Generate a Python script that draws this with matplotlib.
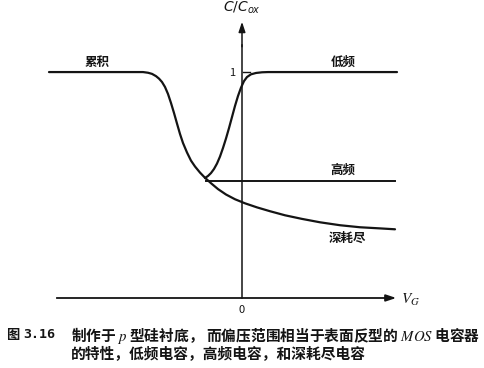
import numpy as np
import matplotlib.pyplot as plt

plt.rcParams['font.family'] = ['Noto Sans CJK SC', 'DejaVu Sans']
plt.rcParams['mathtext.fontset'] = 'stix'

# ---------------------------------------------------------------------------
# Curve data (V_G in arbitrary units, C/Cox normalised)
# ---------------------------------------------------------------------------
# accumulation -> depletion -> deep depletion (single sweep)
dd_v = [-1.93, -1.07, -0.99, -0.94, -0.90, -0.86, -0.83, -0.80, -0.77, -0.74,
        -0.71, -0.68, -0.65, -0.62, -0.59, -0.55, -0.51, -0.47, -0.42, -0.37,
        -0.31, -0.24, -0.16, -0.07, 0.03, 0.15, 0.28, 0.43, 0.60, 0.78,
        0.98, 1.18, 1.38, 1.53]
dd_c = [1.000, 1.000, 1.000, 0.997, 0.992, 0.982, 0.971, 0.956, 0.934, 0.903,
        0.863, 0.819, 0.772, 0.726, 0.686, 0.644, 0.608, 0.582, 0.555, 0.532,
        0.508, 0.482, 0.458, 0.437, 0.419, 0.401, 0.384, 0.366, 0.350, 0.335,
        0.322, 0.313, 0.308, 0.304]

# low frequency branch
lf_v = [-0.37, -0.34, -0.31, -0.28, -0.25, -0.22, -0.19, -0.16, -0.13, -0.10,
        -0.07, -0.04, -0.01, 0.02, 0.05, 0.09, 0.14, 0.20, 0.26, 1.55]
lf_c = [0.531, 0.540, 0.553, 0.571, 0.595, 0.626, 0.664, 0.706, 0.752, 0.801,
        0.850, 0.894, 0.931, 0.960, 0.978, 0.990, 0.996, 0.999, 1.000, 1.000]

# high frequency branch
hf_v = [-0.36, 1.53]
hf_c = [0.518, 0.518]

labels = ["累积", "低频", "高频", "深耗尽"]
label_pos = [(-1.45, 1.044), (1.01, 1.044), (1.01, 0.566), (1.05, 0.265)]

caption_num = ["图", "3.16"]
caption_1 = "制作于 $p$ 型硅衬底， 而偏压范围相当于表面反型的 $MOS$ 电容器"
caption_2 = "的特性，低频电容，高频电容，和深耗尽电容"

# ---------------------------------------------------------------------------
fig = plt.figure(figsize=(4.85, 3.68), dpi=100)
ax = fig.add_axes([0, 0, 1, 1])
ax.set_xlim(-2.42, 2.43)
ax.set_ylim(-0.31, 1.319)
ax.axis('off')

ink = '#141414'

# Curves
ax.plot(dd_v, dd_c, color=ink, lw=1.6, solid_capstyle='round', solid_joinstyle='round')
ax.plot(lf_v, lf_c, color=ink, lw=1.6, solid_capstyle='round', solid_joinstyle='round')
ax.plot(hf_v, hf_c, color=ink, lw=1.4)

# Axes with arrows
ax.plot([-1.85, 1.45], [0, 0], color=ink, lw=1.3)
ax.annotate('', xy=(1.57, 0), xytext=(1.40, 0),
            arrowprops=dict(arrowstyle='-|>,head_length=0.6,head_width=0.2', lw=1.3, color=ink))
ax.plot([0, 0], [0, 1.12], color=ink, lw=1.1)
ax.annotate('', xy=(0, 1.235), xytext=(0, 1.10),
            arrowprops=dict(arrowstyle='-|>,head_length=0.6,head_width=0.2', lw=1.1, color=ink))
ax.plot([0.01, 0.08], [1.0, 1.0], color=ink, lw=1.0)

# Axis annotations
ax.text(-0.10, 0.995, "1", fontsize=8, ha='center', va='center', color=ink)
ax.text(0, -0.055, "0", fontsize=8, ha='center', va='center', color=ink)
ax.text(0, 1.283, "$C/C_{ox}$", fontsize=10, ha='center', va='center', color=ink,
        math_fontfamily='dejavusans')
ax.text(1.59, -0.005, "$V_G$", fontsize=11, ha='left', va='center', color=ink)

for lab, (x, y) in zip(labels, label_pos):
    ax.text(x, y, lab, fontsize=9, ha='center', va='center', color=ink, fontweight='bold')

# Caption
y1 = 1 - 335 / 368
y2 = 1 - 354 / 368
fig.text(6 / 485, y1, caption_num[0], fontsize=9.5, ha='left', va='center',
         color=ink, fontweight='bold')
fig.text(23 / 485, y1, caption_num[1], fontsize=9.5, ha='left', va='center',
         color=ink, fontweight='bold', family='DejaVu Sans Mono')
fig.text(71 / 485, y1, caption_1, fontsize=10.6, ha='left', va='center',
         color=ink, fontweight='bold')
fig.text(71 / 485, y2, caption_2, fontsize=10.6, ha='left', va='center',
         color=ink, fontweight='bold')

fig.savefig("out.png", dpi=100, facecolor='white')
